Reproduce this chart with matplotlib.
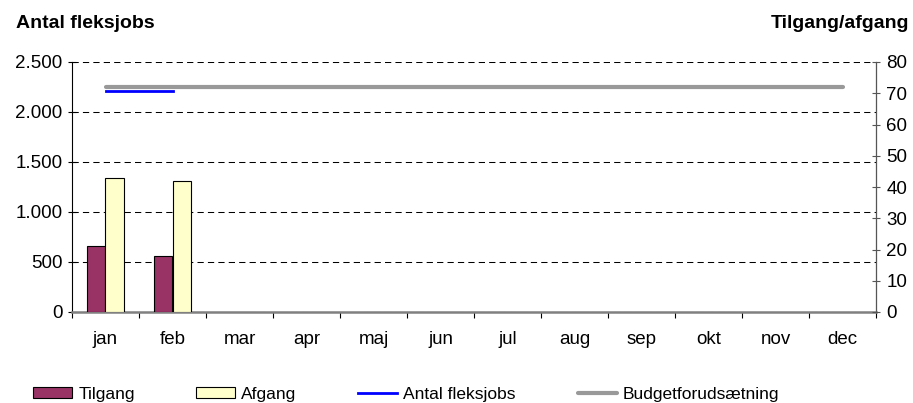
import matplotlib
matplotlib.use("Agg")
import matplotlib.pyplot as plt
from matplotlib.ticker import FuncFormatter, MultipleLocator, FixedLocator

plt.rcParams['font.family'] = ['Liberation Sans', 'DejaVu Sans']

# data
months = ['jan', 'feb', 'mar', 'apr', 'maj', 'jun', 'jul', 'aug', 'sep', 'okt', 'nov', 'dec']
tilgang = [21, 18]
afgang = [43, 42]
antal_fleksjobs = [2210, 2210]
budget = [2250, 2250, 2250, 2250, 2250, 2250, 2250, 2250, 2250, 2250, 2250, 2250]

fig = plt.figure(figsize=(9.13, 4.03), dpi=100)
ax = fig.add_axes([72 / 913, 1 - 312 / 403, 804 / 913, 250 / 403])
ax2 = ax.twinx()

x = list(range(len(months)))
w = 0.28

# linjer på venstre akse
ax.plot(x[:len(budget)], budget, color='#999999', lw=3, solid_capstyle='round', zorder=3, label='Budgetforudsætning')
ax.plot(x[:len(antal_fleksjobs)], antal_fleksjobs, color='#0000FF', lw=2, zorder=4, label='Antal fleksjobs')

# søjler på højre akse
ax2.bar([i - w / 2 for i in x[:len(tilgang)]], tilgang, width=w, color='#993366', edgecolor='black', lw=0.8, label='Tilgang')
ax2.bar([i + w / 2 for i in x[:len(afgang)]], afgang, width=w, color='#FFFFCC', edgecolor='black', lw=0.8, label='Afgang')

ax.set_xlim(-0.5, 11.5)
ax.set_ylim(0, 2500)
ax2.set_ylim(0, 80)
ax.yaxis.set_major_locator(MultipleLocator(500))
ax2.yaxis.set_major_locator(MultipleLocator(10))
ax.yaxis.set_major_formatter(FuncFormatter(lambda v, p: f"{int(v):,}".replace(",", ".")))

fs = 13.5
ax.set_xticks(x)
ax.set_xticklabels(months)
ax.xaxis.set_minor_locator(FixedLocator([i + 0.5 for i in range(-1, 12)]))
ax.tick_params(axis='x', which='major', length=0, pad=14, labelsize=fs)
ax.tick_params(axis='x', which='minor', length=4.5, direction='out', color='black', width=0.8)
ax.tick_params(axis='y', length=6, direction='inout', labelsize=fs, pad=4, width=0.8)
ax2.tick_params(axis='y', length=6, direction='inout', labelsize=fs, pad=4.5, color='#555555', width=0.8)

ax.grid(axis='y', linestyle=(0, (6, 4)), color='black', lw=0.75)
ax.set_axisbelow(True)

ax.spines['top'].set_visible(False)
ax2.spines['top'].set_visible(False)
ax.spines['left'].set_color('black')
ax.spines['bottom'].set_color('#808080')
ax.spines['bottom'].set_linewidth(1.8)
ax2.spines['bottom'].set_visible(False)
ax2.spines['left'].set_visible(False)
ax2.spines['right'].set_color('#555555')

fig.text(16 / 913, 1 - 23 / 403, 'Antal fleksjobs', fontsize=14, fontweight='bold', va='center', ha='left')
fig.text(909 / 913, 1 - 23 / 403, 'Tilgang/afgang', fontsize=14, fontweight='bold', va='center', ha='right')

h1, l1 = ax2.get_legend_handles_labels()
h2, l2 = ax.get_legend_handles_labels()
handles = h1 + [h2[1], h2[0]]
labels = l1 + [l2[1], l2[0]]
fig.legend(handles, labels, loc='center left', bbox_to_anchor=(33 / 913, 1 - 394 / 403), ncol=4,
           frameon=False, fontsize=12.5, handlelength=2.25, handleheight=0.57, handletextpad=0.35,
           columnspacing=3.55, borderpad=0, borderaxespad=0)

fig.savefig('out.png', dpi=100)
